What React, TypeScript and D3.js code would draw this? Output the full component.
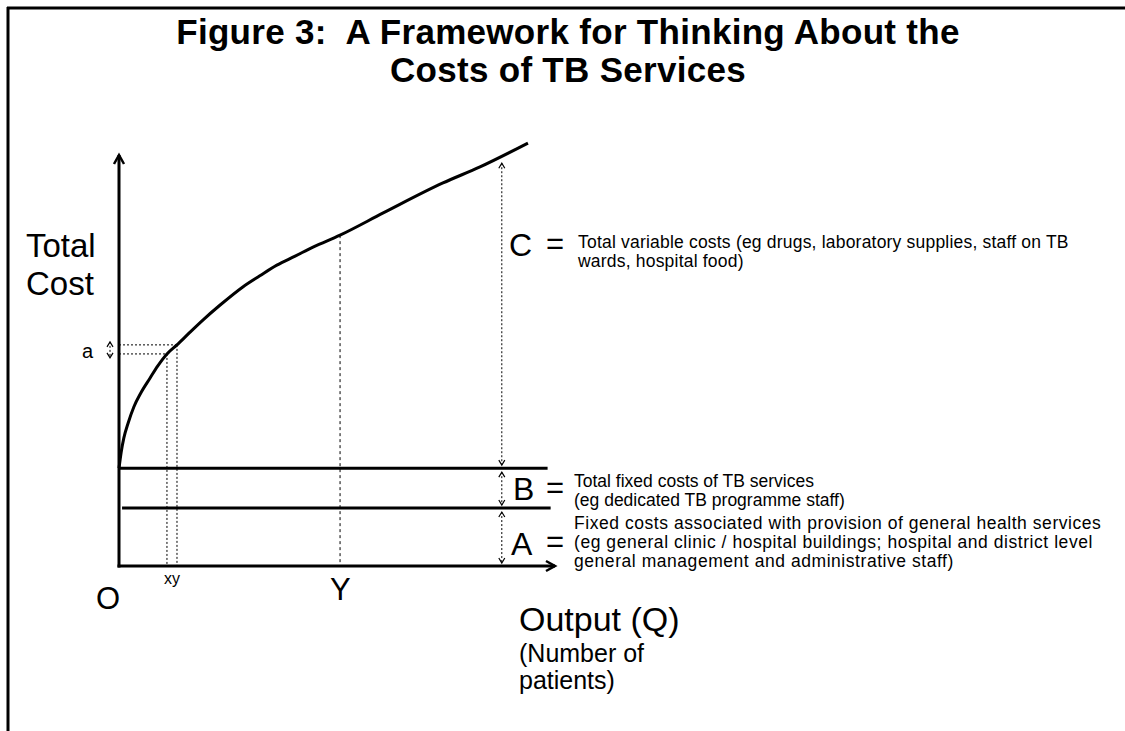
import * as d3 from 'd3';
import React from 'react';

// output (Q) and total cost along the curve
const outputQ = [0, 0.5, 1.1, 2.1, 3.4, 5.0, 7.1, 8.9, 11.0, 13.3, 16.3, 19.3, 23.2, 28.4, 32.3, 36.2, 40.4, 44.5, 50.7, 60.6, 74.3, 82.8, 93.8];
const totalCost = [23.8, 27.7, 31.1, 34.8, 38.7, 42.1, 45.7, 48.7, 51.6, 53.8, 56.9, 59.9, 63.5, 67.9, 70.6, 73.2, 75.4, 77.6, 80.5, 85.9, 93.2, 97.1, 102.9];

const fixedGeneral = 14.1; // A
const fixedTotal = 23.8; // A + B
const lineEnds = [98.3, 99.0];
const markerQ = [11.0, 13.3]; // x, y
const markerCost = [51.6, 53.8];
const outputY = 50.7;
const arrowQ = 87.8;
const arrowTop = 98.0;

const titleLines = ['Figure 3:  A Framework for Thinking About the', 'Costs of TB Services'];
const cLines = ['Total variable costs (eg drugs, laboratory supplies, staff on TB', 'wards, hospital food)'];
const bLines = ['Total fixed costs of TB services', '(eg dedicated TB programme staff)'];
const aLines = [
    'Fixed costs associated with provision of general health services',
    '(eg general clinic / hospital buildings; hospital and district level',
    'general management and administrative staff)'
];
const outputLines = ['(Number of', 'patients)'];

const FONT = '"Liberation Sans", Arial, sans-serif';

const App = () => {
    const x = d3.scaleLinear().domain([0, 100]).range([119, 555]);
    const y = d3.scaleLinear().domain([0, 100]).range([566, 155]);

    const points: [number, number][] = outputQ.map((q, i) => [q, totalCost[i]]);
    const curve = d3.line<[number, number]>()
        .x(d => x(d[0]))
        .y(d => y(d[1]))
        .curve(d3.curveMonotoneX)(points);

    const axisHead = (px: number, py: number, dir: 'up' | 'right') => {
        const s = 5;
        const d = dir === 'up'
            ? `M${px - s},${py + 9} L${px},${py} L${px + s},${py + 9}`
            : `M${px - 9},${py - s} L${px},${py} L${px - 9},${py + s}`;
        return <path d={d} fill="none" stroke="#000" strokeWidth={2.5} />;
    };

    const dotArrow = (px: number, y1: number, y2: number, key: string) => (
        <g key={key}>
            <line x1={px} x2={px} y1={y1} y2={y2} stroke="#000" strokeWidth={1} strokeDasharray="2,2" />
            <path d={`M${px - 3},${y1 + 5} L${px},${y1} L${px + 3},${y1 + 5}`} fill="none" stroke="#000" strokeWidth={1.2} />
            <path d={`M${px - 3},${y2 - 5} L${px},${y2} L${px + 3},${y2 - 5}`} fill="none" stroke="#000" strokeWidth={1.2} />
        </g>
    );

    const arrowX = x(arrowQ);

    return (
        <svg width={1125} height={731} style={{ position: 'absolute', left: 0, top: 0, background: '#fff' }} fontFamily={FONT}>
            {/* frame */}
            <line x1={7} x2={1125} y1={8} y2={8} stroke="#000" strokeWidth={3} />
            <line x1={8} x2={8} y1={7} y2={731} stroke="#000" strokeWidth={3} />

            {titleLines.map((t, i) => (
                <text key={t} x={568} y={44 + i * 38} textAnchor="middle" fontSize={35} fontWeight="bold" letterSpacing={0.3} style={{ whiteSpace: 'pre' }}>{t}</text>
            ))}

            {/* fixed cost lines */}
            <line x1={x(0)} x2={x(lineEnds[0])} y1={y(fixedTotal)} y2={y(fixedTotal)} stroke="#000" strokeWidth={3} />
            <line x1={x(0.7)} x2={x(lineEnds[1])} y1={y(fixedGeneral)} y2={y(fixedGeneral)} stroke="#000" strokeWidth={3} />

            {/* guide lines */}
            {markerQ.map((q, i) => (
                <g key={i}>
                    <line x1={x(0)} x2={x(q)} y1={y(markerCost[i])} y2={y(markerCost[i])} stroke="#000" strokeWidth={1} strokeDasharray="2,2" />
                    <line x1={x(q)} x2={x(q)} y1={y(markerCost[i])} y2={y(0)} stroke="#000" strokeWidth={1} strokeDasharray="2,2" />
                </g>
            ))}
            <line x1={x(outputY)} x2={x(outputY)} y1={y(80.5)} y2={y(0)} stroke="#000" strokeWidth={1} strokeDasharray="3,3" />

            {/* axes */}
            <line x1={x(0)} x2={x(0)} y1={y(0) + 1.5} y2={y(100)} stroke="#000" strokeWidth={3} />
            {axisHead(x(0), y(100), 'up')}
            <line x1={x(0) - 1.5} x2={x(100)} y1={y(0)} y2={y(0)} stroke="#000" strokeWidth={3} />
            {axisHead(x(100), y(0), 'right')}

            <path d={curve || ''} fill="none" stroke="#000" strokeWidth={3} />

            {/* dotted range arrows */}
            {dotArrow(arrowX, y(arrowTop), y(fixedTotal) - 3, 'c')}
            {dotArrow(arrowX, y(fixedTotal) + 4, y(fixedGeneral) - 3, 'b')}
            {dotArrow(arrowX, y(fixedGeneral) + 4, y(0) - 3, 'a')}
            {dotArrow(110, y(markerCost[1]) - 3, y(markerCost[0]) + 4, 'sa')}

            {/* labels */}
            <text x={26} y={257} fontSize={33}>Total</text>
            <text x={26} y={295} fontSize={33}>Cost</text>
            <text x={82} y={358} fontSize={20}>a</text>
            <text x={164} y={584} fontSize={16}>xy</text>
            <text x={96} y={609} fontSize={31}>O</text>
            <text x={330} y={600} fontSize={31}>Y</text>
            <text x={519} y={631} fontSize={34}>Output (Q)</text>
            {outputLines.map((t, i) => <text key={t} x={519} y={662 + i * 27} fontSize={25}>{t}</text>)}

            <text x={509} y={256} fontSize={32}>C</text>
            <text x={546} y={254} fontSize={31}>=</text>
            {cLines.map((t, i) => <text key={t} x={578} y={248 + i * 19} fontSize={17.5} letterSpacing={0.2}>{t}</text>)}

            <text x={513} y={500} fontSize={32}>B</text>
            <text x={546} y={498} fontSize={31}>=</text>
            {bLines.map((t, i) => <text key={t} x={574} y={487 + i * 19} fontSize={17.5}>{t}</text>)}

            <text x={511} y={555} fontSize={32}>A</text>
            <text x={546} y={552} fontSize={31}>=</text>
            {aLines.map((t, i) => <text key={t} x={574} y={529 + i * 19} fontSize={17.5} letterSpacing={0.55}>{t}</text>)}
        </svg>
    );
};

export default App;
